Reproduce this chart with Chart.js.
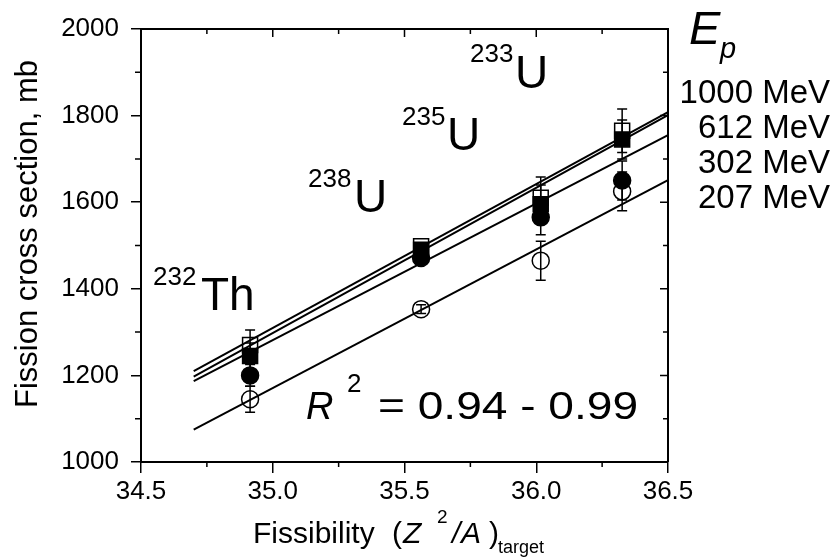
<!DOCTYPE html>
<html>
<head>
<meta charset="utf-8">
<script src="https://cdn.jsdelivr.net/npm/chart.js@4/dist/chart.umd.min.js"></script>
<style>
  body { margin: 0; background: #fff; }
  #wrap { width: 832px; height: 559px; }
</style>
</head>
<body>
<div id="wrap"><canvas id="chart"></canvas></div>
<script>
// target fissibility Z^2/A for 232Th, 238U, 235U, 233U
const isotopes = ['232Th', '238U', '235U', '233U'];
const fissibility = [34.914, 35.563, 36.017, 36.326];

// fission cross sections (mb) and errors per proton energy
const energies = ['1000 MeV', '612 MeV', '302 MeV', '207 MeV'];
const sigma1000 = [1270, 1498, 1610, 1765];
const sigma612 = [1245, 1490, 1595, 1745];
const sigma302 = [1200, 1471, 1565, 1650];
const sigma207 = [1145, 1353, 1465, 1625];
const err1000 = [35, 8, 48, 50];
const err612 = [30, 8, 45, 45];
const err302 = [25, 8, 40, 45];
const err207 = [30, 10, 45, 45];

// linear fits, value at fitX[0] and fitX[1]
const fitX = [34.7, 36.5];
const fit1000 = [1210, 1808];
const fit612 = [1197, 1801];
const fit302 = [1187, 1755];
const fit207 = [1075, 1651];

const xTicks = [34.5, 35.0, 35.5, 36.0, 36.5];
const yTicks = [1000, 1200, 1400, 1600, 1800, 2000];

const FONT = "'Liberation Sans', Arial, sans-serif";
Chart.defaults.font.family = FONT;
Chart.defaults.color = '#000';

const pts = vals => vals.map((v, i) => ({ x: fissibility[i], y: v }));
const fitPts = vals => vals.map((v, i) => ({ x: fitX[i], y: v }));

const series = [
  { data: sigma1000, err: err1000, style: 'rect', filled: false, r: 10.6 },
  { data: sigma612, err: err612, style: 'rect', filled: true, r: 10.6 },
  { data: sigma302, err: err302, style: 'circle', filled: true, r: 8.5 },
  { data: sigma207, err: err207, style: 'circle', filled: false, r: 8.5 }
];

const datasets = series.map((s, i) => ({
  label: energies[i],
  data: pts(s.data),
  pointStyle: s.style,
  pointRadius: s.r,
  pointHoverRadius: s.r,
  pointBorderWidth: 1.5,
  pointBorderColor: '#000',
  pointBackgroundColor: s.filled ? '#000' : 'rgba(0,0,0,0)',
  showLine: false
}));
[fit1000, fit612, fit302, fit207].forEach((f, i) => {
  datasets.push({
    label: 'fit ' + energies[i],
    data: fitPts(f),
    showLine: true,
    borderColor: '#000',
    borderWidth: 2,
    pointRadius: 0
  });
});

function txt(ctx, s, x, y, size, italic, align) {
  ctx.font = (italic ? 'italic ' : '') + size + 'px ' + FONT;
  ctx.textAlign = align || 'left';
  ctx.textBaseline = 'alphabetic';
  ctx.fillText(s, x, y);
}

const decor = {
  id: 'decor',
  beforeDatasetsDraw(chart) {
    const { ctx, scales: { x, y } } = chart;
    ctx.save();
    ctx.strokeStyle = '#000';
    ctx.lineWidth = 1.5;
    series.forEach(s => {
      s.data.forEach((v, i) => {
        const px = x.getPixelForValue(fissibility[i]);
        const top = y.getPixelForValue(v + s.err[i]);
        const bot = y.getPixelForValue(v - s.err[i]);
        ctx.beginPath();
        ctx.moveTo(px, top); ctx.lineTo(px, bot);
        ctx.moveTo(px - 5, top); ctx.lineTo(px + 5, top);
        ctx.moveTo(px - 5, bot); ctx.lineTo(px + 5, bot);
        ctx.stroke();
      });
    });
    ctx.restore();
  },
  afterDraw(chart) {
    const { ctx, chartArea: a, scales: { x, y } } = chart;
    ctx.save();
    ctx.strokeStyle = '#000';
    ctx.lineWidth = 2;
    ctx.beginPath();
    ctx.moveTo(a.left, a.top); ctx.lineTo(a.right, a.top); ctx.lineTo(a.right, a.bottom);
    ctx.stroke();
    ctx.lineWidth = 1.5;
    ctx.beginPath();
    for (let v = 34.5; v <= 36.5001; v += 0.25) {
      const px = x.getPixelForValue(v);
      const major = Math.abs(v * 2 - Math.round(v * 2)) < 1e-6;
      ctx.moveTo(px, a.top); ctx.lineTo(px, a.top + (major ? 8 : 5));
      if (!major) { ctx.moveTo(px, a.bottom); ctx.lineTo(px, a.bottom + 5); }
    }
    for (let v = 1000; v <= 2000; v += 100) {
      const py = y.getPixelForValue(v);
      const major = v % 200 === 0;
      ctx.moveTo(a.right, py); ctx.lineTo(a.right - (major ? 8 : 5), py);
      if (!major) { ctx.moveTo(a.left, py); ctx.lineTo(a.left - 6, py); }
    }
    ctx.stroke();

    ctx.fillStyle = '#000';
    // isotope labels
    txt(ctx, '232', 153, 285, 26); txt(ctx, 'Th', 201, 310, 46);
    txt(ctx, '238', 308, 187, 26); txt(ctx, 'U', 354, 212, 46);
    txt(ctx, '235', 402, 125, 26); txt(ctx, 'U', 447, 150, 46);
    txt(ctx, '233', 470, 62, 26); txt(ctx, 'U', 515, 88, 46);

    // R^2 label
    txt(ctx, 'R', 306, 419, 38, true);
    txt(ctx, '2', 347, 392, 26);
    ctx.font = '39px ' + FONT;
    const s = '= 0.94 - 0.99';
    const w = ctx.measureText(s).width;
    ctx.save();
    ctx.translate(378, 419);
    ctx.scale(260 / w, 1);
    ctx.textAlign = 'left';
    ctx.fillText(s, 0, 0);
    ctx.restore();

    // legend
    txt(ctx, 'E', 689, 44, 47, true);
    txt(ctx, 'p', 720, 58, 29, true);
    const base = [103, 138, 173, 208];
    energies.forEach((e, i) => txt(ctx, e, 830, base[i], 33, false, 'right'));

    // x title
    txt(ctx, 'Fissibility', 253, 543, 30);
    txt(ctx, '(', 392, 543, 30);
    txt(ctx, 'Z', 403, 543, 30, true);
    txt(ctx, '2', 437, 523, 19);
    txt(ctx, '/', 452, 543, 30, true);
    txt(ctx, 'A', 461, 543, 30, true);
    txt(ctx, ')', 489, 543, 30);
    txt(ctx, 'target', 498, 553, 18);

    // y title
    ctx.save();
    ctx.translate(37, 234);
    ctx.rotate(-Math.PI / 2);
    txt(ctx, 'Fission cross section, mb', 0, 0, 31, false, 'center');
    ctx.restore();
    ctx.restore();
  }
};

new Chart(document.getElementById('chart'), {
  type: 'scatter',
  data: { datasets },
  options: {
    responsive: true,
    maintainAspectRatio: false,
    animation: false,
    layout: { padding: { left: 0, top: 29, right: 164, bottom: 0 } },
    plugins: { legend: { display: false }, tooltip: { enabled: false } },
    scales: {
      x: {
        type: 'linear',
        min: 34.5, max: 36.5,
        afterFit: s => { s.height = 97; },
        afterBuildTicks: s => { s.ticks = xTicks.map(v => ({ value: v })); },
        ticks: { font: { size: 26 }, padding: 3, callback: v => v.toFixed(1), maxRotation: 0 },
        grid: { drawOnChartArea: false, tickLength: 11, lineWidth: 1.5, color: '#000' },
        border: { display: true, color: '#000', width: 2 }
      },
      y: {
        min: 1000, max: 2000,
        afterFit: s => { s.width = 141; },
        afterBuildTicks: s => { s.ticks = yTicks.map(v => ({ value: v })); },
        ticks: { font: { size: 26 }, padding: 12, callback: v => String(v) },
        grid: { drawOnChartArea: false, tickLength: 10, lineWidth: 1.5, color: '#000' },
        border: { display: true, color: '#000', width: 2 }
      }
    }
  },
  plugins: [decor]
});
</script>
</body>
</html>
